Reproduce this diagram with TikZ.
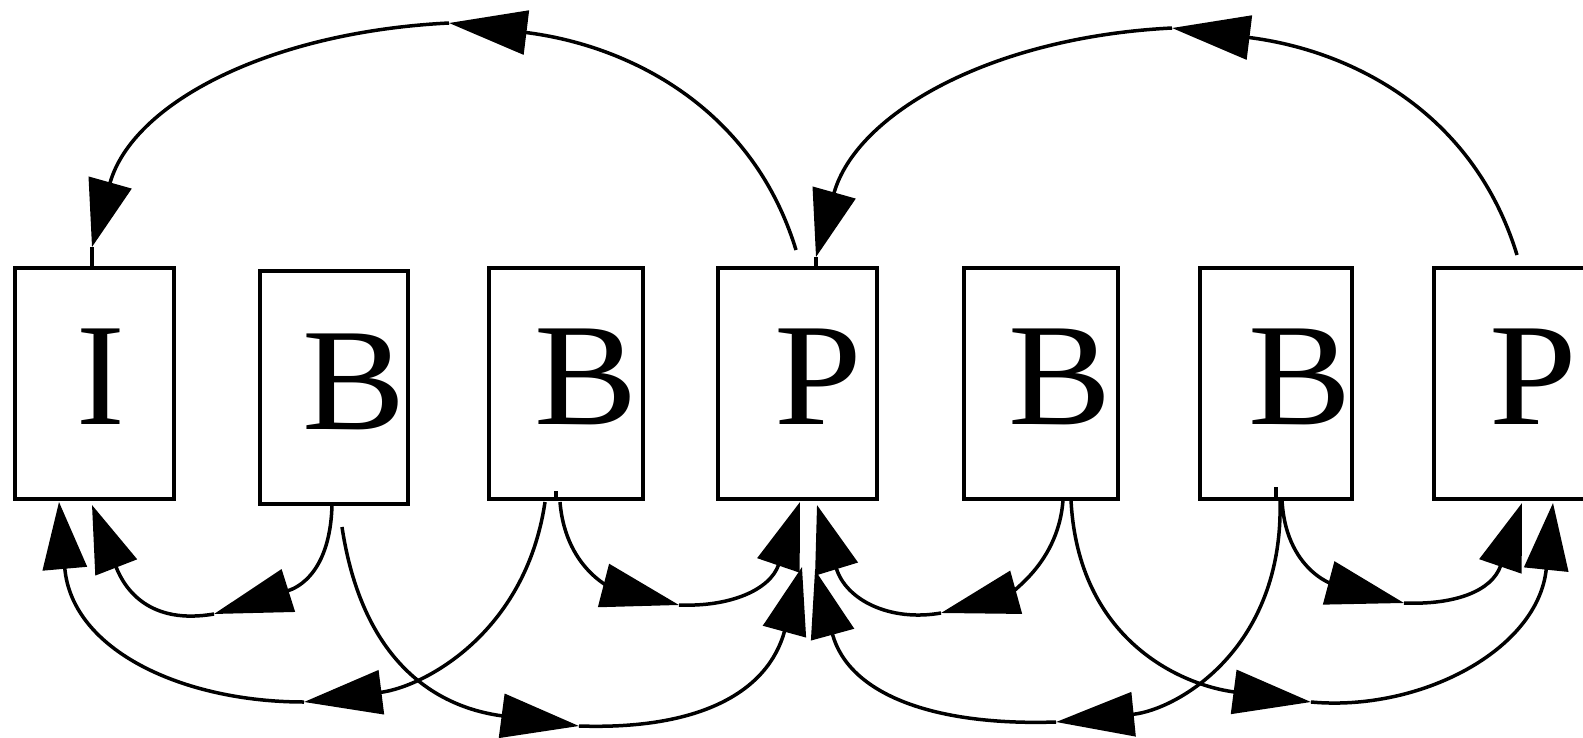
\documentclass[tikz,border=0pt]{standalone}
\usepackage{fontspec}
\setmainfont{Liberation Serif}
\usetikzlibrary{arrows.meta,calc}
\begin{document}
\begin{tikzpicture}[x=1pt,y=-1pt,
  box/.style={draw,line width=4.5pt,inner sep=0pt,outer sep=0pt,minimum height=231pt},
  lbl/.style={inner sep=0pt,outer sep=0pt,anchor=base,font=\fontsize{146}{146}\selectfont},
  edge/.style={line width=3.5pt},
  endarr/.style={edge,-{Triangle[length=67pt,width=44pt]}},
  midarr/.style={edge,-{Triangle[length=78pt,width=44pt]}}]
\useasboundingbox (0,0) rectangle (1583,737);
\clip (0,0) rectangle (1583,737);
% boxes
\node[box,minimum width=159pt] (n1) at (94.5,383.5) {};
\node[box,minimum width=148pt,minimum height=233pt] (n2) at (334,387.5) {};
\node[box,minimum width=154pt] (n3) at (566,383.5) {};
\node[box,minimum width=159pt] (n4) at (797.5,383.5) {};
\node[box,minimum width=154pt] (n5) at (1041,383.5) {};
\node[box,minimum width=152pt] (n6) at (1276,383.5) {};
\node[box,minimum width=159pt] (n7) at (1513.5,383.5) {};
% letters
\node[lbl] (l1) at (100.5,424) {I};
\node[lbl,xscale=1.06] (l2) at (354.5,429) {B};
\node[lbl,xscale=1.06] (l3) at (586.5,424) {B};
\node[lbl,xscale=1.08] (l4) at (818,424) {P};
\node[lbl,xscale=1.06] (l5) at (1060,424) {B};
\node[lbl,xscale=1.06] (l6) at (1300,424) {B};
\node[lbl,xscale=1.08] (l7) at (1533,424) {P};
% top arcs
\coordinate (a1s) at (796,250);
\coordinate (a1m) at (449,23);
\coordinate (a1e) at (92,247);
\coordinate (a2s) at (1517,255);
\coordinate (a2m) at (1172,28);
\coordinate (a2e) at (816,257);
\draw[midarr] (a1s) .. controls +(-44,-144) and +(178,22) .. (a1m);
\draw[endarr] (a1m) .. controls +(-180,9) and +(40.5,-144) .. (a1e);
\draw[edge] (a1e) -- (a1e |- n1.north);
\draw[midarr] (a2s) .. controls +(-44,-144) and +(178,22) .. (a2m);
\draw[endarr] (a2m) .. controls +(-180,9) and +(40.5,-144) .. (a2e);
\draw[edge] (a2e) -- (a2e |- n4.north);
% bottom edges
\coordinate (b1s) at (332,505);
\coordinate (b1m) at (214,614);
\coordinate (b1e) at (92,505);
\draw[midarr] (b1s) .. controls +(-2,75) and +(76,-24) .. (b1m);
\draw[endarr] (b1m) .. controls +(-64,11) and +(33,85) .. (b1e);
\coordinate (b2s) at (342,527);
\coordinate (b2m) at (579,726);
\coordinate (b2e) at (802,567);
\draw[midarr] (b2s) .. controls +(22.5,148.5) and +(-129,-17) .. (b2m);
\draw[endarr] (b2m) .. controls +(121,4) and +(-34,125) .. (b2e);
\coordinate (b3s) at (545,502);
\coordinate (b3m) at (304,702);
\coordinate (b3e) at (59,502);
\draw[midarr] (b3s) .. controls +(-19.5,132) and +(119,-15) .. (b3m);
\draw[endarr] (b3m) .. controls +(-120,0) and +(13,149) .. (b3e);
\coordinate (b4s) at (560,502);
\coordinate (b4m) at (679,605);
\coordinate (b4e) at (800,502);
\draw[midarr] (b4s) .. controls +(6,73) and +(-58,-15) .. (b4m);
\draw[endarr] (b4m) .. controls +(51,2) and +(-30,88) .. (b4e);
\coordinate (b5s) at (1063,500);
\coordinate (b5m) at (941,613);
\coordinate (b5e) at (817,505);
\draw[midarr] (b5s) .. controls +(-5,70) and +(58,-16) .. (b5m);
\draw[endarr] (b5m) .. controls +(-51,9) and +(29,95) .. (b5e);
\coordinate (b6s) at (1071,500);
\coordinate (b6m) at (1311,702);
\coordinate (b6e) at (1553,503);
\draw[midarr] (b6s) .. controls +(7,140) and +(-130,-17) .. (b6m);
\draw[endarr] (b6m) .. controls +(109,10) and +(-15,147) .. (b6e);
\coordinate (b7s) at (1280,500);
\coordinate (b7m) at (1056,722);
\coordinate (b7e) at (815,570);
\draw[midarr] (b7s) .. controls +(4,150) and +(120,-12) .. (b7m);
\draw[endarr] (b7m) .. controls +(-121,4) and +(34,125) .. (b7e);
\coordinate (b8s) at (1282,500);
\coordinate (b8m) at (1404,603);
\coordinate (b8e) at (1522,503);
\draw[midarr] (b8s) .. controls +(4,77) and +(-60,-16) .. (b8m);
\draw[endarr] (b8m) .. controls +(51,2) and +(-30,88) .. (b8e);
% small ticks
\coordinate (k3) at (556,491);
\coordinate (k6) at (1276,487);
\draw[edge] (k3) -- (k3 |- n3.south);
\draw[edge] (k6) -- (k6 |- n6.south);
\end{tikzpicture}
\end{document}
